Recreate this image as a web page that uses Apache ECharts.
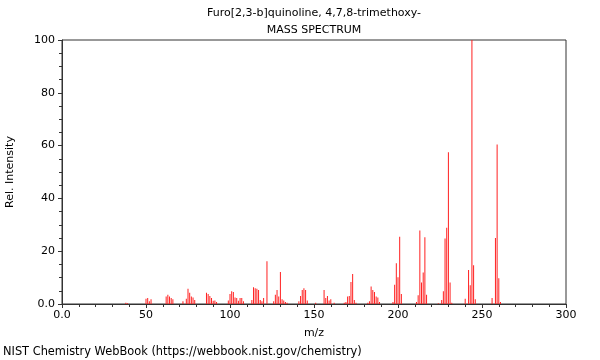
<!DOCTYPE html>
<html><head><meta charset="utf-8">
<script src="https://cdn.jsdelivr.net/npm/echarts@6/dist/echarts.min.js"></script>
<style>html,body{margin:0;padding:0;background:#fff}#c{width:600px;height:360px}</style>
</head><body><div id="c"></div>
<script>
const titleLines = ["Furo[2,3-b]quinoline, 4,7,8-trimethoxy-", "MASS SPECTRUM"];
const footer = "NIST Chemistry WebBook (https://webbook.nist.gov/chemistry)";
const mz = [38,39,50,51,52,53,62,63,64,65,66,72,74,75,76,77,78,79,86,87,88,89,90,91,92,
  99,100,101,102,103,104,105,106,107,108,113,114,115,116,117,118,119,120,122,126,127,128,129,130,131,132,133,134,
  141,142,143,144,145,146,151,156,157,158,159,160,162,168,169,170,171,172,173,174,175,
  182,183,184,185,186,187,188,189,197,198,199,200,201,202,211,212,213,214,215,216,217,224,
  226,227,228,229,230,231,232,240,242,243,244,245,246,256,258,259,260,261];
const intensity = [0.5,0.3,2.0,2.3,1.0,1.8,2.8,3.5,2.8,2.3,1.8,1.0,2.0,5.8,4.3,2.8,2.5,1.5,4.3,3.8,3.0,2.3,1.2,1.3,0.8,
  1.3,3.8,4.8,4.5,2.5,2.3,1.2,2.3,2.3,1.0,1.5,6.3,6.0,5.8,5.3,1.5,1.0,2.3,16.2,1.0,3.5,5.3,2.8,12.1,1.8,1.3,0.8,0.5,
  1.0,3.0,5.3,6.0,5.3,1.3,0.5,5.3,2.3,3.0,1.3,1.8,0.5,0.5,0.8,2.8,3.0,8.3,11.4,1.5,0.5,
  0.5,1.0,6.6,5.3,4.5,2.8,2.5,0.8,0.8,7.3,15.4,10.1,25.5,3.8,0.8,3.3,27.8,8.1,11.9,25.3,3.5,0.3,
  1.5,4.8,24.8,28.9,57.5,8.1,0.5,2.0,12.9,7.1,100,14.7,1.8,2.3,25.0,60.4,9.8,0.8];
const xTicks = [0,50,100,150,200,250,300];
const yTicks = [0,20,40,60,80,100];

const data = mz.map((m,i)=>[m,intensity[i]]);
const fmt = v => v===0 ? "0.0" : String(v);
const font = "DejaVu Sans";
const tStyle = {fontSize:11, fontWeight:'normal', color:'#000', fontFamily:font, align:'center'};
const chart = echarts.init(document.getElementById('c'), null, {renderer:'canvas'});
chart.setOption({
  animation:false,
  backgroundColor:'#fff',
  textStyle:{fontFamily:font},
  title:[
    {text:titleLines[0], left:314, top:8, padding:0, textAlign:'center', textStyle:tStyle},
    {text:titleLines[1], left:314, top:25, padding:0, textAlign:'center', textStyle:tStyle},
    {text:footer, left:3, top:347, padding:0, textStyle:{fontSize:11.4, fontWeight:'normal', color:'#000', fontFamily:font}}
  ],
  grid:{left:62, right:34, top:40, bottom:56, show:true, borderColor:'#333', borderWidth:1, backgroundColor:'transparent', outerBoundsMode:'none', containLabel:false},
  xAxis:{type:'value', min:xTicks[0], max:xTicks[xTicks.length-1], interval:50,
    name:'m/z', nameLocation:'middle', nameGap:24, nameTextStyle:{fontSize:11, color:'#000', fontFamily:font},
    axisLine:{lineStyle:{color:'#333'}}, axisTick:{length:4, lineStyle:{color:'#333'}},
    minorTick:{show:true, splitNumber:5, length:3, lineStyle:{color:'#333'}},
    splitLine:{show:false},
    axisLabel:{formatter:fmt, fontSize:11, color:'#000', margin:6, fontFamily:font}},
  yAxis:{type:'value', min:yTicks[0], max:yTicks[yTicks.length-1], interval:20,
    name:'Rel. Intensity', nameLocation:'middle', nameGap:46, nameRotate:90, nameTextStyle:{fontSize:11, color:'#000', fontFamily:font},
    axisLine:{show:true, lineStyle:{color:'#333'}}, axisTick:{show:true, length:4, lineStyle:{color:'#333'}},
    minorTick:{show:true, splitNumber:4, length:3, lineStyle:{color:'#333'}},
    splitLine:{show:false},
    axisLabel:{formatter:fmt, fontSize:11, color:'#000', margin:7, fontFamily:font}},
  series:[{type:'bar', data:data, barWidth:1, itemStyle:{color:'#ff2020'}, large:false}]
});
</script></body></html>
